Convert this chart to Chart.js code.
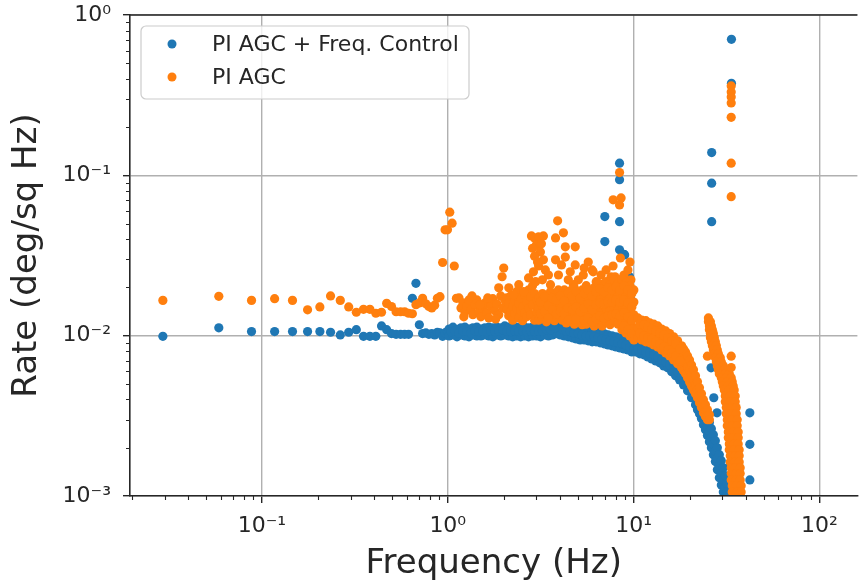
<!DOCTYPE html>
<html><head><meta charset="utf-8">
<script src="https://cdn.jsdelivr.net/npm/chart.js@4.4.1/dist/chart.umd.min.js"></script>
<style>html,body{margin:0;padding:0;background:#fff;}canvas{display:block;}</style>
</head><body>
<canvas id="c" width="862" height="586" style="width:862px;height:586px"></canvas>
<script>
// ---------- axis ranges & ticks ----------
const xRange = [0.0195, 160];
const yRange = [0.001, 1];
const xTickValues = [0.1, 1, 10, 100];
const xTickLabels = ['10\u207B\u00B9', '10\u2070', '10\u00B9', '10\u00B2'];
const yTickValues = [0.001, 0.01, 0.1, 1];
const yTickLabels = ['10\u207B\u00B3', '10\u207B\u00B2', '10\u207B\u00B9', '10\u2070'];
const seriesLabels = ['PI AGC + Freq. Control', 'PI AGC'];

// ---------- PI AGC + Freq. Control : [frequency Hz, rate] ----------
const blueLow = [
 [0.0293,0.0099],[0.0586,0.0112],[0.0879,0.0106],[0.117,0.0106],[0.146,0.0106],
 [0.176,0.0106],[0.205,0.0106],[0.234,0.0105],[0.264,0.0101],[0.293,0.0105],
 [0.322,0.0109],[0.352,0.0099],[0.381,0.0099],[0.410,0.0099],[0.440,0.0115],
 [0.469,0.0109],[0.498,0.0103],[0.527,0.0102],[0.557,0.0102],[0.586,0.0102],
 [0.615,0.0102],[0.645,0.0171],[0.674,0.0212],[0.703,0.0117],[0.732,0.0103],
 [0.762,0.0104],[0.791,0.0102],[0.820,0.0103],[0.850,0.0101],[0.879,0.0105],
 [0.908,0.0104],[0.938,0.0099],[0.967,0.0104],[0.996,0.0106]
];
const blueMid = [
 [1.016,0.0110],[1.016,0.00997],[1.067,0.0113],[1.067,0.0101],[1.121,0.0109],[1.121,0.00983],
 [1.178,0.0112],[1.178,0.0101],[1.237,0.0113],[1.237,0.00997],[1.300,0.0110],[1.300,0.00983],
 [1.365,0.0112],[1.365,0.0101],[1.434,0.0113],[1.434,0.00997],[1.507,0.0110],[1.507,0.00997],
 [1.583,0.0112],[1.583,0.0101],[1.663,0.0113],[1.663,0.00997],[1.747,0.0112],[1.747,0.00983],
 [1.835,0.0113],[1.835,0.0101],[1.928,0.0112],[1.928,0.00997],[2.025,0.0115],[2.025,0.0101],
 [2.127,0.0113],[2.127,0.00997],[2.235,0.0112],[2.235,0.00983],[2.347,0.0113],[2.347,0.00997],
 [2.466,0.0112],[2.466,0.00983],[2.590,0.0113],[2.590,0.00997],[2.721,0.0112],[2.721,0.00983],
 [2.858,0.0113],[2.858,0.00997],[3.003,0.0115],[3.003,0.00997],[3.154,0.0113],[3.154,0.00983],
 [3.314,0.0117],[3.314,0.0101],[3.481,0.0115],[3.481,0.00997],[3.657,0.0118],[3.657,0.0101],
 [3.841,0.0124],[3.841,0.0103],[3.937,0.0127],[4.035,0.0120],[4.035,0.0101],
 [4.239,0.0115],[4.239,0.00997],[4.453,0.0113],[4.453,0.00983],[4.677,0.0112],[4.677,0.00969],
 [4.913,0.0110],[4.913,0.00955],[5.161,0.0110],[5.161,0.00941],[5.422,0.0109],[5.422,0.00941],
 [5.695,0.0107],[5.695,0.00928],[5.983,0.0106],[5.983,0.00915],[6.285,0.0106],[6.285,0.00915],
 [6.602,0.0104],[6.602,0.00902],[6.935,0.0103],[6.935,0.00889],[7.285,0.0101],[7.285,0.00876],
 [7.652,0.00997],[7.652,0.00864],[8.038,0.00983],[8.038,0.00851],[8.444,0.00969],[8.444,0.00839],
 [8.870,0.00941],[8.870,0.00827],[9.317,0.00928],[9.317,0.00815],[9.787,0.00915],[9.787,0.00792]
];
const blueMidFill = [
 [1.041,0.0106],[1.094,0.0107],[1.149,0.0104],[1.207,0.0107],[1.268,0.0106],[1.332,0.0104],
 [1.399,0.0107],[1.470,0.0106],[1.544,0.0107],[1.622,0.0106],[1.704,0.0107],[1.790,0.0106],
 [1.881,0.0107],[1.976,0.0109],[2.075,0.0107],[2.180,0.0106],[2.290,0.0107],[2.406,0.0106],
 [2.527,0.0107],[2.655,0.0106],[2.789,0.0107],[2.930,0.0106],[3.078,0.0107],[3.233,0.0107],
 [3.396,0.0109],[3.568,0.0109],[3.748,0.0112],[4.136,0.0110],[4.344,0.0107],[4.563,0.0106],
 [4.794,0.0104],[5.036,0.0103],[5.290,0.0101],[5.557,0.00997],[5.837,0.00997],[6.132,0.00983],
 [6.441,0.00969],[6.766,0.00955],[7.108,0.00941],[7.466,0.00928],[7.843,0.00915],[8.239,0.00902],
 [8.654,0.00889],[9.091,0.00876],[9.549,0.00851],[10.03,0.00827]
];
const blueRoll = [
 [10.28,0.00889],[10.28,0.00792],[10.80,0.00864],[10.80,0.00770],[11.35,0.00851],[11.35,0.00759],
 [11.92,0.00827],[11.92,0.00737],[12.52,0.00815],[12.52,0.00716],[13.15,0.00792],[13.15,0.00696],
 [13.82,0.00770],[13.82,0.00677],[14.52,0.00748],[14.52,0.00648],[15.25,0.00727],[15.25,0.00630],
 [16.02,0.00696],[16.02,0.00595],[16.83,0.00667],[16.83,0.00562],[17.68,0.00630],[17.68,0.00530],
 [18.57,0.00595],[18.57,0.00493],
 [19.51,0.00546],[19.51,0.00501],[19.51,0.00453],
 [20.49,0.00501],[20.49,0.00453],[20.49,0.00410],
 [21.53,0.00453],[21.53,0.00410],[21.53,0.00371],
 [22.06,0.00428],[22.06,0.00387],[22.06,0.00345],
 [22.61,0.00404],[22.61,0.00366],[22.61,0.00326],
 [23.18,0.00382],[23.18,0.00341],[23.18,0.00304],
 [23.75,0.00356],[23.75,0.00317],[23.75,0.00278],
 [24.35,0.00331],[24.35,0.00295],[24.35,0.00259],
 [24.95,0.00308],[24.95,0.00271],[24.95,0.00238],
 [25.57,0.00287],[25.57,0.00252],[25.57,0.00218],
 [26.21,0.00263],[26.21,0.00231],[26.21,0.00200],
 [26.86,0.00241],[26.86,0.00209],[26.86,0.00181],
 [27.53,0.00221],[27.53,0.00189],[27.53,0.00164],
 [28.22,0.00200],[28.22,0.00171],[28.22,0.00146],
 [28.92,0.00181],[28.92,0.00154],[28.92,0.00130],
 [29.64,0.00166],[29.64,0.00139],[29.64,0.00117],
 [30.38,0.00150],[30.38,0.00126],[30.38,0.00106],
 [31.14,0.00134],[31.14,0.00114],[31.14,0.000975],
 [31.91,0.00119],[31.91,0.00106]
];
const blueRollFill = [
 [10.54,0.00827],[11.07,0.00815],[11.63,0.00792],[12.22,0.00781],[12.83,0.00759],[13.48,0.00737],
 [14.16,0.00706],[14.88,0.00686],[15.63,0.00657],[16.42,0.00630],[17.25,0.00595],[18.12,0.00554],
 [19.03,0.00508],[19.99,0.00459],[21.00,0.00415]
];
const blueSpikes = [
 [7.0,0.0553],[7.0,0.0386],[8.4,0.119],[8.4,0.094],[8.4,0.0514],[8.4,0.0343],
 [8.87,0.0322],[8.95,0.0319],[9.2,0.0239],[9.5,0.0233],[9.55,0.0200],[9.6,0.0175],
 [26.3,0.1386],[26.3,0.0893],[26.3,0.0514],[26.1,0.0063],[27.0,0.0041],[28.1,0.0033],
 [33.6,0.705],[33.6,0.375],[33.1,0.00156],
 [42.2,0.0033],[42.2,0.0021],[42.2,0.00126]
];

// ---------- PI AGC : [frequency Hz, rate] ----------
const orangeLow = [
 [0.0293,0.0166],[0.0586,0.0176],[0.0879,0.0166],[0.117,0.0170],[0.146,0.0166],
 [0.176,0.0145],[0.205,0.0151],[0.234,0.0177],[0.264,0.0166],[0.293,0.0151],
 [0.322,0.0140],[0.352,0.0146],[0.381,0.0146],[0.410,0.0138],[0.440,0.0140],
 [0.469,0.0159],[0.498,0.0152],[0.527,0.0141],[0.557,0.0141],[0.586,0.0141],
 [0.615,0.0138],[0.645,0.0137],[0.674,0.0156],[0.703,0.0160],[0.732,0.0171],
 [0.762,0.0158],[0.791,0.0152],[0.820,0.0149],[0.850,0.0155],[0.879,0.0171],
 [0.908,0.0175],[0.938,0.0286],[0.967,0.0457],[0.996,0.0457],[1.025,0.0589],
 [1.055,0.0503],[1.084,0.0272],[1.113,0.0171]
];
const orangeCloudA = [
 [1.149,0.0172],[1.178,0.0149],[1.207,0.0160],[1.237,0.0141],[1.268,0.0153],[1.300,0.0167],
 [1.332,0.0145],[1.365,0.0135],[1.399,0.0156],[1.434,0.0167],[1.470,0.0141],[1.507,0.0131],
 [1.544,0.0149],[1.583,0.0160],[1.622,0.0139],[1.663,0.0129],[1.704,0.0153],[1.747,0.0170],
 [1.790,0.0143],[1.835,0.0158],[1.881,0.0135],[1.928,0.0177],[1.976,0.0149],[2.025,0.0167],
 [1.22,0.0131],[1.35,0.0177],[1.49,0.0156],[1.64,0.0172],[1.81,0.0127],
 [1.96,0.0233],[2.00,0.0264],[1.88,0.0199]
];
const orangeCloudB = [
 [2.075,0.0145],[2.075,0.0172],[2.127,0.0160],[2.127,0.0133],[2.180,0.0177],[2.180,0.0141],
 [2.235,0.0153],[2.235,0.0125],[2.290,0.0167],[2.290,0.0137],[2.347,0.0188],[2.347,0.0147],
 [2.406,0.0158],[2.406,0.0129],[2.466,0.0172],[2.466,0.0143],[2.527,0.0151],[2.527,0.0124],
 [2.590,0.0180],[2.590,0.0139],[2.655,0.0162],[2.655,0.0131],[2.721,0.0193],[2.721,0.0149],
 [2.789,0.0175],[2.789,0.0135],[2.858,0.0205],[2.858,0.0156],[2.930,0.0183],[2.930,0.0125],
 [3.003,0.0167],[3.003,0.0141]
];
const orangePeaks = [
 [2.72,0.0229],[2.82,0.0419],[2.93,0.0407],[3.08,0.0413],[3.27,0.0419],[3.00,0.0369],
 [3.15,0.0333],[3.27,0.0297],[3.08,0.0272],[2.89,0.0250],[3.35,0.0257],[2.97,0.0217],
 [3.23,0.0223],[3.48,0.0239],[3.57,0.0208],[2.41,0.0208],[2.56,0.0188],[2.26,0.0180],
 [2.13,0.0199],[2.86,0.0351],[2.93,0.0313],[3.04,0.0288],[3.19,0.0374],
 [3.90,0.0520],[3.80,0.0407],[4.19,0.0438],[4.29,0.0358],[3.80,0.0297],[4.29,0.0309],
 [4.09,0.0276],[4.85,0.0358],[4.85,0.0276],[4.56,0.0250],[5.04,0.0223],[3.94,0.0239],
 [5.42,0.0264],[5.70,0.0288],[5.98,0.0257],[6.29,0.0217],[6.68,0.0239],[6.94,0.0211],
 [7.56,0.0233],[7.75,0.0272],[7.94,0.0233],[8.49,0.0305],[8.24,0.0208],[8.87,0.0239],
 [9.32,0.0257],[9.67,0.0223],[7.29,0.0193],[4.24,0.0193],[4.74,0.0208],[4.45,0.0223],
 [5.36,0.0239],[6.06,0.0250],[7.11,0.0257],[9.55,0.0288],
 [7.76,0.0703],[8.40,0.104],[8.56,0.0723],[8.40,0.0654]
];
const orangeBase = [
 [3.078,0.0172],[3.078,0.0147],[3.078,0.0125],[3.233,0.0183],[3.233,0.0153],[3.233,0.0129],
 [3.396,0.0167],[3.396,0.0143],[3.396,0.0122],[3.568,0.0188],[3.568,0.0158],[3.568,0.0133],
 [3.748,0.0177],[3.748,0.0149],[3.748,0.0124],[3.937,0.0193],[3.937,0.0162],[3.937,0.0129],
 [4.136,0.0183],[4.136,0.0153],[4.136,0.0125],[4.344,0.0175],[4.344,0.0145],[4.344,0.0120],
 [4.563,0.0190],[4.563,0.0160],[4.563,0.0131],
 [4.794,0.0199],[4.794,0.0167],[4.794,0.0137],[4.794,0.0118],
 [5.036,0.0183],[5.036,0.0153],[5.036,0.0125],
 [5.290,0.0193],[5.290,0.0162],[5.290,0.0133],[5.290,0.0117],
 [5.557,0.0205],[5.557,0.0172],[5.557,0.0141],[5.557,0.0118],
 [5.837,0.0188],[5.837,0.0156],[5.837,0.0129],
 [6.132,0.0199],[6.132,0.0167],[6.132,0.0137],[6.132,0.0115],
 [6.441,0.0213],[6.441,0.0177],[6.441,0.0145],[6.441,0.0120],
 [6.766,0.0202],[6.766,0.0170],[6.766,0.0139],[6.766,0.0115],
 [7.108,0.0217],[7.108,0.0183],[7.108,0.0149],[7.108,0.0122],
 [7.466,0.0208],[7.466,0.0175],[7.466,0.0143],[7.466,0.0117],
 [7.843,0.0223],[7.843,0.0188],[7.843,0.0153],[7.843,0.0125],
 [8.239,0.0211],[8.239,0.0177],[8.239,0.0145],[8.239,0.0118],
 [8.654,0.0226],[8.654,0.0190],[8.654,0.0156],[8.654,0.0127],[8.654,0.0109],
 [9.091,0.0214],[9.091,0.0180],[9.091,0.0147],[9.091,0.0120],[9.091,0.0104],
 [9.549,0.0205],[9.549,0.0172],[9.549,0.0141],[9.549,0.0115],[9.549,0.00997],
 [10.03,0.0193],[10.03,0.0162],[10.03,0.0135],[10.03,0.0112],[10.03,0.00941]
];
const orangeBaseFill = [
 [3.154,0.0162],[3.154,0.0137],[3.314,0.0175],[3.314,0.0141],[3.481,0.0153],[3.481,0.0129],
 [3.657,0.0172],[3.657,0.0145],[3.841,0.0167],[3.841,0.0137],[4.035,0.0177],[4.035,0.0141],
 [4.239,0.0165],[4.239,0.0137],[4.453,0.0185],[4.453,0.0149],[4.453,0.0125],
 [4.677,0.0177],[4.677,0.0145],[4.913,0.0188],[4.913,0.0151],[4.913,0.0127],
 [5.161,0.0172],[5.161,0.0141],[5.422,0.0183],[5.422,0.0149],[5.422,0.0125],
 [5.695,0.0193],[5.695,0.0158],[5.695,0.0129],[5.983,0.0177],[5.983,0.0145],[5.983,0.0122],
 [6.285,0.0188],[6.285,0.0156],[6.285,0.0127],[6.602,0.0196],[6.602,0.0160],[6.602,0.0133],
 [6.935,0.0188],[6.935,0.0158],[6.935,0.0129],[7.285,0.0199],[7.285,0.0162],[7.285,0.0133],
 [7.652,0.0193],[7.652,0.0162],[7.652,0.0135],[8.038,0.0202],[8.038,0.0167],[8.038,0.0137],
 [8.444,0.0193],[8.444,0.0162],[8.444,0.0133],
 [8.870,0.0205],[8.870,0.0167],[8.870,0.0139],[8.870,0.0115],
 [9.317,0.0193],[9.317,0.0160],[9.317,0.0131],[9.317,0.0109],
 [9.787,0.0183],[9.787,0.0151],[9.787,0.0125],[9.787,0.0103]
];
const orangeRoll = [
 [10.54,0.0129],[10.54,0.0112],[10.54,0.00969],[11.07,0.0125],[11.07,0.0109],[11.07,0.00941],
 [11.63,0.0124],[11.63,0.0107],[11.63,0.00915],[12.22,0.0120],[12.22,0.0104],[12.22,0.00902],
 [12.83,0.0118],[12.83,0.0101],[12.83,0.00876],[13.48,0.0115],[13.48,0.00983],[13.48,0.00851],
 [14.16,0.0110],[14.16,0.00955],[14.16,0.00815],[14.88,0.0107],[14.88,0.00915],[14.88,0.00781],
 [15.63,0.0103],[15.63,0.00876],[15.63,0.00748],[16.42,0.00983],[16.42,0.00839],[16.42,0.00706],
 [17.25,0.00928],[17.25,0.00792],[17.25,0.00667],[18.12,0.00864],[18.12,0.00737],[18.12,0.00630],
 [18.57,0.00827],[18.57,0.00706],[18.57,0.00604],[19.03,0.00792],[19.03,0.00677],[19.03,0.00578],
 [19.51,0.00748],[19.51,0.00639],[19.51,0.00546],[19.99,0.00706],[19.99,0.00604],[19.99,0.00515],
 [20.49,0.00657],[20.49,0.00570],[20.49,0.00486],[21.00,0.00612],[21.00,0.00530],[21.00,0.00459],
 [21.53,0.00562],[21.53,0.00493],[21.53,0.00434],[22.06,0.00515],[22.06,0.00459],[22.06,0.00410],
 [22.61,0.00473],[22.61,0.00421],[22.61,0.00382],[23.18,0.00434],[23.18,0.00393],[23.18,0.00356],
 [23.75,0.00398],[23.75,0.00361],[23.75,0.00331],[24.35,0.00371],[24.35,0.00336],[24.35,0.00313],
 [24.95,0.00345],[24.95,0.00317],[24.95,0.00299],[25.57,0.00321],[25.57,0.00299]
];
const orangeRollFill = [
 [10.80,0.0118],[10.80,0.0103],[11.35,0.0117],[11.35,0.00997],[11.92,0.0113],[11.92,0.00969],
 [12.52,0.0110],[12.52,0.00955],[13.15,0.0107],[13.15,0.00915],[13.82,0.0104],[13.82,0.00889],
 [14.52,0.0101],[14.52,0.00851],[15.25,0.00969],[15.25,0.00815],[16.02,0.00928],[16.02,0.00781],
 [16.83,0.00889],[16.83,0.00748],[17.68,0.00827],[17.68,0.00696]
];
const orangeBranch = [
 [25.26,0.0129],[25.26,0.0122],[25.89,0.0122],[25.57,0.0115],[26.21,0.0115],
 [25.57,0.0109],[26.53,0.0109],[25.89,0.0103],[26.86,0.0103],[25.89,0.00969],[27.19,0.00969],
 [26.21,0.00915],[27.53,0.00915],[26.53,0.00864],[27.87,0.00864],[26.86,0.00815],[28.22,0.00815],
 [27.19,0.00770],[28.57,0.00770],[27.53,0.00727],[29.28,0.00727],[27.87,0.00686],[29.64,0.00686],
 [28.22,0.00648],[30.38,0.00648],[28.57,0.00612],[30.76,0.00612],
 [28.92,0.00578],[31.14,0.00578],[32.71,0.00578],[29.64,0.00546],[31.52,0.00546],[33.52,0.00546],
 [30.01,0.00515],[31.91,0.00515],[33.94,0.00515],[30.38,0.00486],[32.31,0.00486],[34.36,0.00486],
 [30.76,0.00459],[32.71,0.00459],[34.78,0.00459],[31.14,0.00421],[33.11,0.00421],[35.21,0.00421],
 [31.14,0.00387],[33.11,0.00387],[35.21,0.00387],[31.52,0.00356],[33.52,0.00356],[35.65,0.00356],
 [31.52,0.00326],[33.52,0.00326],[35.65,0.00326],[31.91,0.00299],[33.94,0.00299],[36.09,0.00299],
 [31.91,0.00274],[33.94,0.00274],[36.09,0.00274],[32.31,0.00251],[34.36,0.00251],[36.54,0.00251],
 [32.31,0.00231],[34.36,0.00231],[36.54,0.00231],[32.71,0.00211],[34.78,0.00211],[36.54,0.00211],
 [32.71,0.00194],[34.78,0.00194],[36.99,0.00194],[33.11,0.00178],[35.21,0.00178],[36.99,0.00178],
 [33.11,0.00163],[35.21,0.00163],[36.99,0.00163],[33.52,0.00150],[35.21,0.00150],[37.45,0.00150],
 [33.52,0.00138],[35.65,0.00138],[37.45,0.00138],[33.52,0.00126],[35.65,0.00126],[37.45,0.00126],
 [33.94,0.00116],[35.65,0.00116],[37.91,0.00116],[33.94,0.00106],[36.09,0.00106],[37.91,0.00106],
 [33.94,0.000974],[36.09,0.000974],[37.91,0.000974]
];
const orangeSpikes = [
 [33.5,0.361],[33.5,0.331],[33.5,0.308],[33.5,0.283],[33.5,0.230],[33.5,0.119],[33.5,0.0736],
 [24.95,0.00745],[33.5,0.00745],[33.5,0.00632]
];

const blueAll = [].concat(blueLow, blueMid, blueMidFill, blueRoll, blueRollFill, blueSpikes);
const orangeAll = [].concat(orangeLow, orangeCloudA, orangeCloudB, orangePeaks, orangeBase,
  orangeBaseFill, orangeRoll, orangeRollFill, orangeBranch, orangeSpikes);
const toPts = arr => arr.map(([x, y]) => ({x, y}));

// ---------- plugins ----------
const frame = {
  id: 'frame',
  afterDraw(chart) {
    const {ctx, chartArea: a, scales: {x, y}} = chart;
    ctx.save();
    ctx.strokeStyle = '#262626';
    ctx.lineWidth = 1.1;
    ctx.beginPath();
    for (let k = -3; k <= 2; k++) {
      for (let m = 2; m <= 9; m++) {
        const v = m * Math.pow(10, k);
        if (v > x.min && v < x.max) {
          const px = Math.round(x.getPixelForValue(v)) + 0.5;
          ctx.moveTo(px, a.bottom); ctx.lineTo(px, a.bottom + 4);
        }
        if (v > y.min && v < y.max) {
          const py = Math.round(y.getPixelForValue(v)) + 0.5;
          ctx.moveTo(a.left, py); ctx.lineTo(a.left - 4, py);
        }
      }
    }
    ctx.stroke();
    ctx.lineWidth = 1.6;
    ctx.beginPath();
    ctx.moveTo(a.left, a.top); ctx.lineTo(a.right, a.top);
    ctx.stroke();
    ctx.restore();
  }
};
const boxLegend = {
  id: 'boxLegend',
  afterDraw(chart) {
    const {ctx, chartArea: a} = chart;
    const x0 = a.left + 11, y0 = a.top + 11, w = 328, h = 73, r = 5;
    ctx.save();
    ctx.beginPath();
    ctx.moveTo(x0 + r, y0);
    ctx.lineTo(x0 + w - r, y0); ctx.arcTo(x0 + w, y0, x0 + w, y0 + r, r);
    ctx.lineTo(x0 + w, y0 + h - r); ctx.arcTo(x0 + w, y0 + h, x0 + w - r, y0 + h, r);
    ctx.lineTo(x0 + r, y0 + h); ctx.arcTo(x0, y0 + h, x0, y0 + h - r, r);
    ctx.lineTo(x0, y0 + r); ctx.arcTo(x0, y0, x0 + r, y0, r);
    ctx.closePath();
    ctx.fillStyle = 'rgba(255,255,255,0.8)';
    ctx.fill();
    ctx.strokeStyle = '#cccccc';
    ctx.lineWidth = 1.2;
    ctx.stroke();
    ctx.font = '22px "DejaVu Sans"';
    ctx.textBaseline = 'middle';
    ctx.textAlign = 'left';
    chart.data.datasets.forEach((ds, i) => {
      const cy = y0 + 18 + i * 33;
      ctx.fillStyle = ds.backgroundColor;
      ctx.beginPath(); ctx.arc(x0 + 31, cy, 4.5, 0, Math.PI * 2); ctx.fill();
      ctx.fillStyle = '#262626';
      ctx.fillText(ds.label, x0 + 71, cy + 1);
    });
    ctx.restore();
  }
};

Chart.defaults.font.family = '"DejaVu Sans", sans-serif';
const axisColor = '#262626';

new Chart(document.getElementById('c'), {
  type: 'scatter',
  data: {
    datasets: [
      { label: seriesLabels[0], data: toPts(blueAll), backgroundColor: '#1f77b4', borderWidth: 0,
        pointRadius: 4.6, pointHoverRadius: 4.6, order: 1, clip: 0 },
      { label: seriesLabels[1], data: toPts(orangeAll), backgroundColor: '#ff7f0e', borderWidth: 0,
        pointRadius: 4.6, pointHoverRadius: 4.6, order: 0, clip: 0 }
    ]
  },
  options: {
    responsive: false, animation: false, devicePixelRatio: 1, events: [],
    layout: { padding: { top: 15, right: 0, left: 0, bottom: 0 } },
    plugins: { legend: { display: false }, tooltip: { enabled: false } },
    scales: {
      x: {
        type: 'logarithmic', position: 'bottom', min: xRange[0], max: xRange[1],
        afterBuildTicks: s => { s.ticks = xTickValues.map(v => ({ value: v })); },
        afterFit: s => { s.height = 90; s.paddingLeft = 0; s.paddingRight = 0; },
        ticks: { autoSkip: false, maxRotation: 0, padding: 10, color: axisColor,
                 font: { size: 22 }, callback: (v, i) => xTickLabels[i] },
        grid: { color: '#b0b0b0', lineWidth: 1.4, tickLength: 7, tickColor: axisColor, tickWidth: 1.4 },
        border: { display: true, color: axisColor, width: 1.6, z: 1 },
        title: { display: true, text: 'Frequency (Hz)', color: axisColor,
                 font: { size: 34, lineHeight: 1.2 }, padding: { top: 0, bottom: 1 } }
      },
      y: {
        type: 'logarithmic', position: 'left', min: yRange[0], max: yRange[1],
        afterBuildTicks: s => { s.ticks = yTickValues.map(v => ({ value: v })); },
        afterFit: s => { s.width = 130; s.paddingTop = 0; s.paddingBottom = 0; },
        ticks: { autoSkip: false, padding: 12, color: axisColor,
                 font: { size: 22 }, callback: (v, i) => yTickLabels[i] },
        grid: { color: '#b0b0b0', lineWidth: 1.4, tickLength: 7, tickColor: axisColor, tickWidth: 1.4 },
        border: { display: true, color: axisColor, width: 1.6, z: 1 },
        title: { display: true, text: 'Rate (deg/sq Hz)', color: axisColor,
                 font: { size: 34, lineHeight: 1.2 }, padding: { top: 7, bottom: 0 } }
      }
    }
  },
  plugins: [frame, boxLegend]
});
</script>
</body></html>
